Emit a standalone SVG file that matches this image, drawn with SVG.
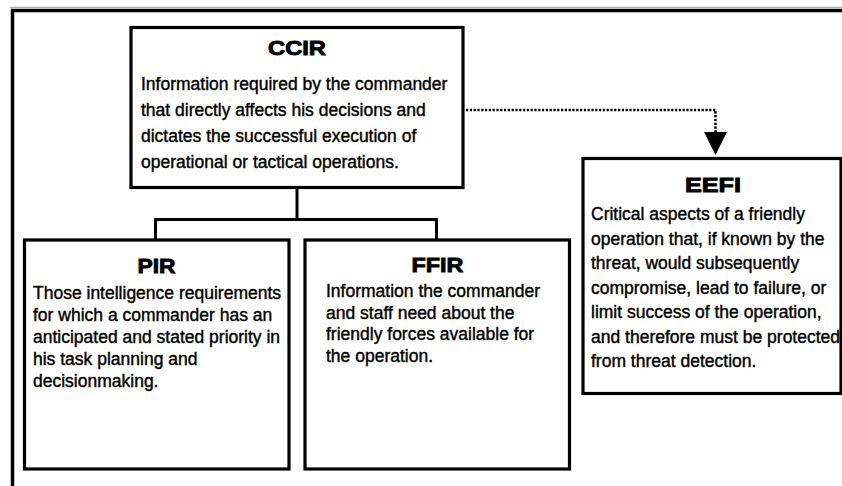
<svg xmlns="http://www.w3.org/2000/svg" width="842" height="486" viewBox="0 0 842 486">
<style>
.box{fill:#fff;stroke:#000;stroke-width:3.2}
.ttl{font-family:"Liberation Sans",Arial,sans-serif;font-weight:bold;font-size:21px;fill:#000;stroke:#000;stroke-width:0.9;text-anchor:middle}
.txt{font-family:"Liberation Sans",Arial,sans-serif;font-size:17.5px;fill:#000;stroke:#000;stroke-width:0.4}
.ln{fill:none;stroke:#000;stroke-width:3}
.dot{fill:none;stroke:#000;stroke-width:2.6;stroke-dasharray:2.2 1.6}
</style>
<rect width="842" height="486" fill="#fff"/>
<g id="frame">
<line x1="10" y1="7.3" x2="842" y2="7.3" stroke="#999" stroke-width="1"/>
<line x1="11" y1="10.5" x2="842" y2="10.5" stroke="#000" stroke-width="3.5"/>
<line x1="12.5" y1="9" x2="12.5" y2="486" stroke="#000" stroke-width="3.5"/>
</g>
<g id="connectors">
<polyline class="ln" points="297,188 297,219.5"/>
<polyline class="ln" points="155.5,240 155.5,219.5 436.5,219.5 436.5,240"/>
<polyline class="dot" points="466,110 715.5,110 715.5,133"/>
<polygon points="704,132 727,132 715.5,155" fill="#000"/>
</g>
<g id="ccir">
<rect class="box" x="131" y="27.5" width="332" height="160"/>
<text class="ttl" x="297" y="55" textLength="58" lengthAdjust="spacingAndGlyphs">CCIR</text>
<text class="txt" x="141" y="90">Information required by the commander</text>
<text class="txt" x="141" y="116">that directly affects his decisions and</text>
<text class="txt" x="141" y="142">dictates the successful execution of</text>
<text class="txt" x="141" y="168">operational or tactical operations.</text>
</g>
<g id="pir">
<rect class="box" x="24.5" y="240" width="264.5" height="229"/>
<text class="ttl" x="156.5" y="273" textLength="38" lengthAdjust="spacingAndGlyphs">PIR</text>
<text class="txt" x="33" y="299">Those intelligence requirements</text>
<text class="txt" x="33" y="321">for which a commander has an</text>
<text class="txt" x="33" y="343">anticipated and stated priority in</text>
<text class="txt" x="33" y="365">his task planning and</text>
<text class="txt" x="33" y="387">decisionmaking.</text>
</g>
<g id="ffir">
<rect class="box" x="305" y="240" width="264.5" height="229"/>
<text class="ttl" x="437.5" y="272" textLength="52" lengthAdjust="spacingAndGlyphs">FFIR</text>
<text class="txt" x="326" y="297">Information the commander</text>
<text class="txt" x="326" y="318.5">and staff need about the</text>
<text class="txt" x="326" y="340">friendly forces available for</text>
<text class="txt" x="326" y="361.5">the operation.</text>
</g>
<g id="eefi">
<rect class="box" x="583" y="158.5" width="258" height="235"/>
<text class="ttl" x="713" y="192" textLength="56" lengthAdjust="spacingAndGlyphs">EEFI</text>
<text class="txt" x="591" y="220">Critical aspects of a friendly</text>
<text class="txt" x="591" y="244.5">operation that, if known by the</text>
<text class="txt" x="591" y="269">threat, would subsequently</text>
<text class="txt" x="591" y="293.5">compromise, lead to failure, or</text>
<text class="txt" x="591" y="318">limit success of the operation,</text>
<text class="txt" x="591" y="342.5">and therefore must be protected</text>
<text class="txt" x="591" y="367">from threat detection.</text>
</g>
</svg>
